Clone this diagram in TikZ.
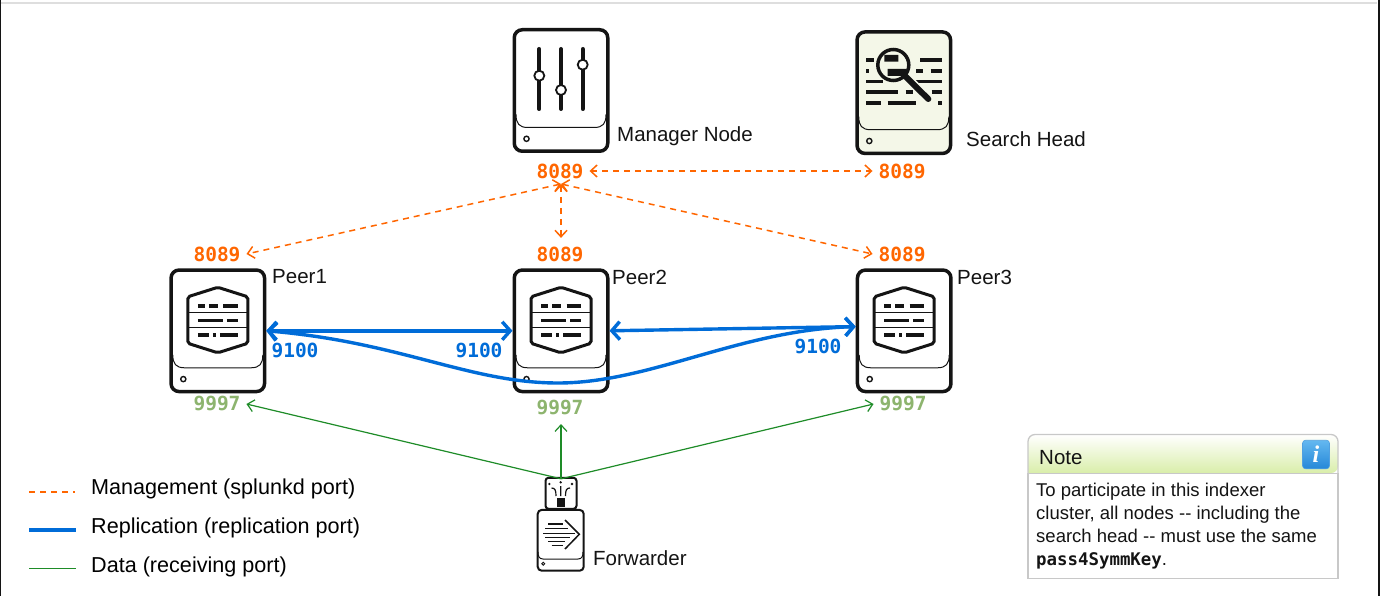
\documentclass[tikz,border=0pt]{standalone}
\usepackage{xcolor}
\usepackage{fontspec}
\setmainfont{Liberation Sans}
\setmonofont{DejaVu Sans Mono}
\newfontfamily\infofont{Liberation Serif}
\usetikzlibrary{arrows.meta, positioning, calc}
\definecolor{myink}{RGB}{20,20,20}
\definecolor{myorange}{RGB}{255,102,0}
\definecolor{myblue}{RGB}{0,108,216}
\definecolor{mygreen}{RGB}{30,140,40}
\definecolor{portgreen}{RGB}{141,180,110}
\definecolor{hdrbeige}{RGB}{244,247,232}
\definecolor{hdrlime}{RGB}{217,238,170}
\definecolor{noteedge}{RGB}{200,200,200}
\definecolor{infotop}{RGB}{100,184,240}
\definecolor{infobot}{RGB}{38,136,216}
\tikzset{
  drive/.style={draw=myink, fill=white, rectangle, rounded corners=8pt, line width=3.5pt, minimum width=93.5pt, minimum height=121.5pt},
  smalldrive/.style={draw=myink, fill=white, rectangle, rounded corners=4pt, line width=2pt, minimum width=46pt, minimum height=60.8pt},
  port/.style={font=\fontsize{19.5}{23}\ttfamily\bfseries, inner xsep=6pt, inner ysep=8.7pt, outer sep=0pt},
  nodelabel/.style={font=\fontsize{20.5}{24}\selectfont, anchor=west, inner sep=0pt, text=myink},
  legendtext/.style={font=\fontsize{21.6}{25}\selectfont, anchor=west, inner sep=0pt, text=black},
  mgmtline/.style={draw=myorange, line width=1.5pt, dash pattern=on 6pt off 5pt},
  mgmt/.style={mgmtline, {Straight Barb[length=6.5pt,width=12pt]}-{Straight Barb[length=6.5pt,width=12pt]}},
  repl/.style={draw=myblue, line width=3.4pt, {Straight Barb[length=8pt,width=18pt]}-{Straight Barb[length=8pt,width=18pt]}},
  data/.style={draw=mygreen, line width=1.2pt, -{Straight Barb[length=6.5pt,width=12pt]}},
  iconline/.style={draw=myink, line width=3.6pt},
  drive base/.pic={
    \draw [myink, line width=1pt] (-45,24) .. controls (-45,33) and (-42,37) .. (-33,37) -- (33,37) .. controls (42,37) and (45,33) .. (45,24);
    \draw [myink, line width=1.4pt] (-34.5,48.3) circle (2.6);
  },
  peer icon/.pic={
    \draw [myink, line width=3pt, rounded corners=2pt] (0,-43.5) -- (30,-34) -- (30,12.5) -- (0,22) -- (-30,12.5) -- (-30,-34) -- cycle;
    \draw [myink, line width=1pt] (-30,-18) -- (30,-18) (-30,-3.5) -- (30,-3.5);
    \draw [iconline] (-20,-25) -- (-13,-25) (-9,-25) -- (0,-25) (5.5,-25) -- (20,-25);
    \draw [iconline] (-20,-10.5) -- (5,-10.5) (9,-10.5) -- (20,-10.5);
    \draw [iconline] (-20,4) -- (-9,4) (-5,4) -- (-2,4) (2,4) -- (20,4);
  }
}

\begin{document}
\begin{tikzpicture}[x=1pt, y=-1pt]
  \useasboundingbox (0,0) rectangle (1380,596);
  \fill [white] (0,0) rectangle (1380,596);
  \fill [black!13] (0,2) rectangle (1377,4);
  \fill [myink] (0,0) rectangle (1,596);
  \fill [myink] (1378,0) rectangle (1380,596);

  % top row
  \node [drive] (manager) at (561,90.5) {};
  \pic at (manager.center) {drive base};
  \draw [myink, line width=4pt, line cap=round] (539.3,49) -- (539.3,109) (561,49) -- (561,109) (582.7,49) -- (582.7,109);
  \draw [myink, fill=white, line width=1.8pt] (539.3,75.7) circle (5) (561,90) circle (5) (582.7,64.7) circle (5);
  \node [nodelabel] (managerlabel) at (617,136) {Manager Node};

  \node [drive, fill=hdrbeige] (search) at (903.8,92.7) {};
  \pic at (search.center) {drive base};
  \draw [iconline] (866,60) -- (874,60) (920,60) -- (941.7,60);
  \draw [iconline] (866,71) -- (869.3,71) (916,71) -- (923.3,71) (930.7,71) -- (941.7,71);
  \draw [iconline] (866,81.7) -- (882.7,81.7) (915,81.7) -- (941.7,81.7);
  \draw [iconline] (866,92.3) -- (898.3,92.3) (905.7,92.3) -- (913.3,92.3) (931.7,92.3) -- (941.7,92.3);
  \draw [iconline] (866,103.3) -- (880.7,103.3) (887.7,103.3) -- (916,103.3) (938.3,103.3) -- (941.7,103.3);
  \draw [hdrbeige, line width=9pt] (909.3,80) -- (926,97);
  \fill [myink] (884.3,55) rectangle (898.3,61.7) (887.7,69) rectangle (906.7,76);
  \draw [myink, line width=3.5pt] (893.3,65) circle (15.5);
  \draw [myink, line width=6pt, line cap=round] (905,76) -- (928.3,99);
  \node [nodelabel] (searchlabel) at (966,139) {Search Head};

  % peers
  \node [drive] (peer1) at (217.8,330.8) {};
  \node [drive] (peer2) at (561,330.8) {};
  \node [drive] (peer3) at (904.2,330.8) {};
  \pic at (peer1.center) {drive base};
  \pic at (peer2.center) {drive base};
  \pic at (peer3.center) {drive base};
  \pic at (peer1.center) {peer icon};
  \pic at (peer2.center) {peer icon};
  \pic at (peer3.center) {peer icon};
  \node [nodelabel] (peer1label) at (272,277) {Peer1};
  \node [nodelabel] (peer2label) at (612,277) {Peer2};
  \node [nodelabel] (peer3label) at (957,277) {Peer3};

  % forwarder
  \node [draw=myink, fill=white, rectangle, rounded corners=3pt, line width=2pt, minimum width=31pt, minimum height=31pt] (usb) at (561,493.3) {};
  \fill [myink] (556.7,498.3) rectangle (564.7,507);
  \fill [myink] (549.3,484) circle (1.3) (560.7,482.3) circle (1.3) (572,484) circle (1.3);
  \draw [myink, line width=1.2pt] (560.7,496) -- (560.7,486) (556,496) .. controls (556,490) and (555,488) .. (551.5,488) (565.5,496) .. controls (565.5,490) and (566.5,488) .. (570,488);
  \node [smalldrive] (forwarder) at (560.7,540.3) {};
  \draw [myink, line width=1pt] (538,552) .. controls (538,556) and (539,559) .. (543,559) -- (578,559) .. controls (582,559) and (583,556) .. (583,552);
  \draw [myink, line width=0.9pt] (543.3,563.7) circle (1.5);
  \draw [myink, line width=1.5pt] (565,520) -- (579.3,534.3) -- (565,549);
  \draw [myink, line width=1.5pt] (548.3,524) -- (563.3,524) (545,528.3) -- (568.3,528.3) (543.3,533.3) -- (575,533.3) (545,537.7) -- (570,537.7) (548.3,541.7) -- (565,541.7) (551.7,545.7) -- (563.3,545.7);
  \node [nodelabel] (forwarderlabel) at (593,558) {Forwarder};

  % ports
  \node [port, text=myorange] (mgrmgmt) at (560,171) {8089};
  \node [port, text=myorange] (searchmgmt) at (902,171) {8089};
  \node [port, text=myorange] (peer1mgmt) at (217,254) {8089};
  \node [port, text=myorange] (peer2mgmt) at (560,254) {8089};
  \node [port, text=myorange] (peer3mgmt) at (902,254) {8089};
  \node [port, text=portgreen] (peer1data) at (217,404) {9997};
  \node [port, text=portgreen] (peer2data) at (560,408) {9997};
  \node [port, text=portgreen] (peer3data) at (903,404) {9997};
  \node [port, text=myblue] (peer1repl) at (295,350) {9100};
  \node [port, text=myblue] (peer2repl) at (479,350) {9100};
  \node [port, text=myblue] (peer3repl) at (818,346) {9100};

  % connectors
  \coordinate (mgmthub) at (561,184);
  \draw [mgmt] (mgrmgmt) -- (searchmgmt);
  \draw [mgmt] (mgmthub) -- (peer1mgmt.east);
  \draw [mgmt] (mgmthub) -- (peer2mgmt.north -| mgmthub);
  \draw [mgmt] (mgmthub) -- (peer3mgmt.west);
  \draw [repl] (peer1.east) -- (peer2.west);
  \draw [repl] (peer2.east) -- ([yshift=4.2pt]peer3.west);
  \draw [repl] (peer1.east) .. controls (400,342) and (470,383) .. (558,383) .. controls (650,383) and (740,330) .. ([yshift=4.2pt]peer3.west);
  \coordinate (datahub) at ([yshift=-2pt]usb.north);
  \draw [data] (datahub) -- (peer1data.east);
  \draw [data] (datahub) -- (peer2data.south -| datahub);
  \draw [data] (datahub) -- (peer3data.west);

  % legend
  \coordinate (legmgmta) at (29,492);
  \coordinate (legmgmtb) at (75,492);
  \coordinate (legrepla) at (29,530);
  \coordinate (legreplb) at (76,530);
  \coordinate (legdataa) at (29,568.3);
  \coordinate (legdatab) at (76,568.3);
  \draw [mgmtline] (legmgmta) -- (legmgmtb);
  \draw [draw=myblue, line width=3.6pt] (legrepla) -- (legreplb);
  \draw [draw=mygreen, line width=1.1pt] (legdataa) -- (legdatab);
  \node [legendtext] (legmgmt) at (91,488.5) {Management (splunkd port)};
  \node [legendtext] (legrepl) at (91,527.5) {Replication (replication port)};
  \node [legendtext] (legdata) at (91,566.5) {Data (receiving port)};

  % note
  \shade [top color=white, bottom color=hdrlime, rounded corners=7pt] (1028,473) -- (1028,434.5) -- (1338,434.5) -- (1338,473) [sharp corners] -- cycle;
  \draw [noteedge, line width=1.3pt, rounded corners=7pt] (1028,473.3) -- (1028,434.5) -- (1338,434.5) -- (1338,473.3);
  \draw [noteedge, line width=1.3pt] (1028,473.3) -- (1338,473.3) -- (1338,578.3) -- (1028,578.3) -- cycle;
  \node [font=\fontsize{20.5}{24}\selectfont, anchor=west, inner sep=0pt, text=myink] (notetitle) at (1039,458) {Note};
  \node [rectangle, rounded corners=3pt, top color=infotop, bottom color=infobot, draw=infobot!80, line width=0.6pt, minimum width=27pt, minimum height=28.5pt, inner sep=0pt, text=white, font=\fontsize{24}{26}\infofont\bfseries\itshape] (noteicon) at (1316,454.5) {i};
  \node [font=\fontsize{18.5}{23}\selectfont, anchor=north west, align=left, inner sep=0pt, text=myink] (notetext) at (1036,483) {To participate in this indexer\\cluster, all nodes -{}- including the\\search head -{}- must use the same\\{\fontsize{17.4}{23}\ttfamily\bfseries pass4SymmKey}.};
\end{tikzpicture}
\end{document}
